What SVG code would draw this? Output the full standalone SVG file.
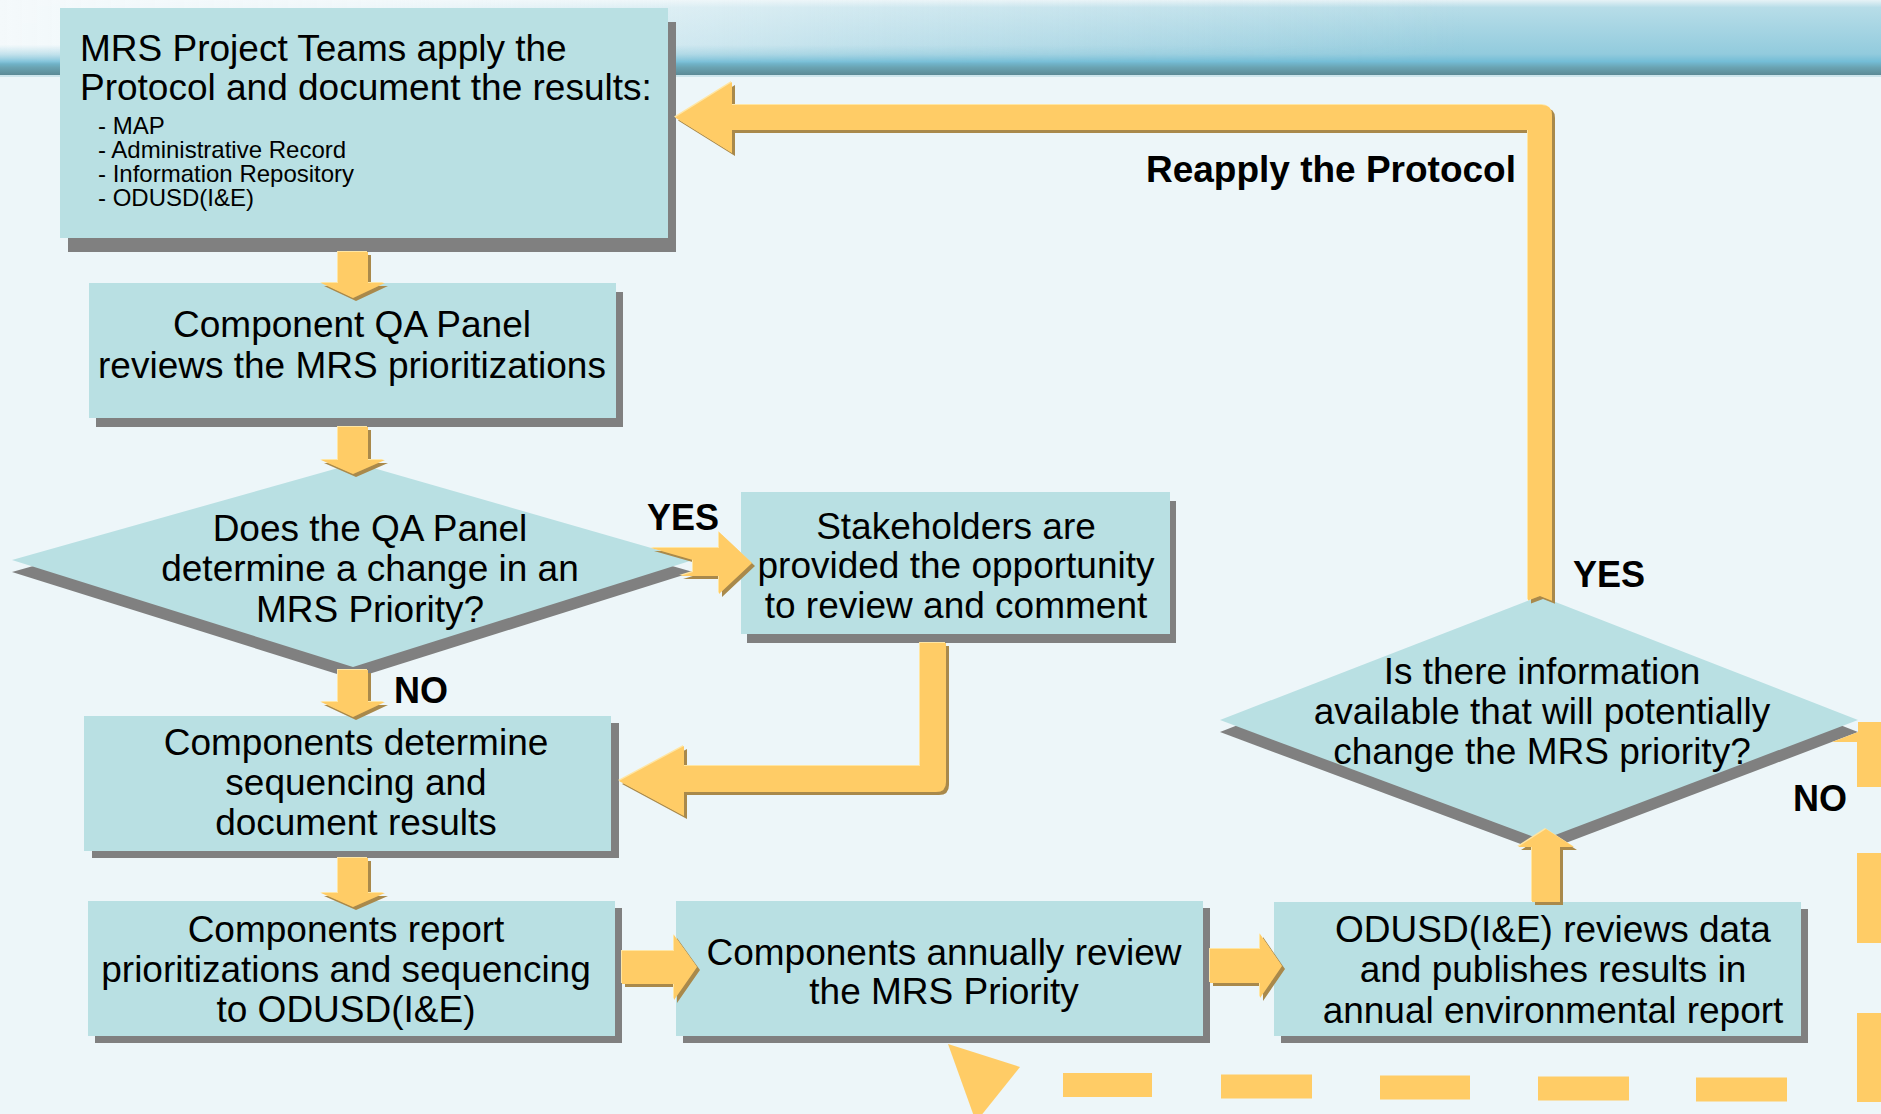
<svg xmlns="http://www.w3.org/2000/svg" width="1881" height="1114" viewBox="0 0 1881 1114">
<style>
.box{fill:#B9E0E3}
.sh{fill:#808080}
.t{font-family:"Liberation Sans",Arial,sans-serif;font-size:37px;fill:#000}
.c{text-anchor:middle}
.s{font-size:24px}
.b{font-family:"Liberation Sans",Arial,sans-serif;font-weight:bold;font-size:36px;fill:#000}
.arr{fill:#FFCC66;filter:url(#bevel)}
.dash{fill:none;stroke:#FFCC66;stroke-width:24;stroke-linecap:butt;stroke-linejoin:miter}
</style>
<defs>
<linearGradient id="bandV" x1="0" y1="0" x2="0" y2="1">
<stop offset="0" stop-color="#E6F2F6"/>
<stop offset="0.1" stop-color="#B7DDE8"/>
<stop offset="0.72" stop-color="#92CBDD"/>
<stop offset="0.82" stop-color="#74BDD6"/>
<stop offset="0.9" stop-color="#6AA3B2"/>
<stop offset="1" stop-color="#5C8A96"/>
</linearGradient>
<linearGradient id="fadeH" x1="0" y1="0" x2="1" y2="0">
<stop offset="0" stop-color="#F4F9FB" stop-opacity="1"/>
<stop offset="0.2" stop-color="#F4F9FB" stop-opacity="0.9"/>
<stop offset="0.45" stop-color="#F4F9FB" stop-opacity="0.45"/>
<stop offset="0.78" stop-color="#F4F9FB" stop-opacity="0"/>
</linearGradient>
<linearGradient id="maskV" x1="0" y1="0" x2="0" y2="1">
<stop offset="0" stop-color="#fff"/>
<stop offset="0.7" stop-color="#fff"/>
<stop offset="1" stop-color="#000"/>
</linearGradient>
<mask id="bandMask"><rect x="0" y="0" width="1881" height="64" fill="url(#maskV)"/></mask>
<filter id="bevel" x="-5%" y="-5%" width="110%" height="110%">
<feOffset in="SourceAlpha" dx="2.5" dy="2.5" result="o1"/>
<feFlood flood-color="#A9894B"/>
<feComposite in2="o1" operator="in" result="dark"/>
<feOffset in="SourceAlpha" dx="-1.5" dy="-1.5" result="o2"/>
<feFlood flood-color="#FFE6A3"/>
<feComposite in2="o2" operator="in" result="light"/>
<feMerge><feMergeNode in="dark"/><feMergeNode in="light"/><feMergeNode in="SourceGraphic"/></feMerge>
</filter>
</defs>

<rect x="0" y="0" width="1881" height="1114" fill="#EDF6F9"/>
<g id="header-band">
<rect x="0" y="0" width="1881" height="75" fill="url(#bandV)"/>
<rect x="0" y="0" width="1881" height="64" fill="url(#fadeH)" mask="url(#bandMask)"/>
<rect x="0" y="75" width="1881" height="2" fill="#CDE5EC"/>
</g>

<g id="node-apply">
<rect class="sh" x="68" y="22" width="608" height="230"/>
<rect class="box" x="60" y="8" width="608" height="230"/>
<text class="t"><tspan x="80" y="61">MRS Project Teams apply the</tspan><tspan x="80" y="100">Protocol and document the results:</tspan></text>
<text class="t s"><tspan x="98" y="134">- MAP</tspan><tspan x="98" y="158">- Administrative Record</tspan><tspan x="98" y="182">- Information Repository</tspan><tspan x="98" y="206">- ODUSD(I&amp;E)</tspan></text>
</g>

<g id="node-qa-review">
<rect class="sh" x="96" y="292" width="527" height="135"/>
<rect class="box" x="89" y="283" width="527" height="135"/>
<text class="t c"><tspan x="352" y="337">Component QA Panel</tspan><tspan x="352" y="378">reviews the MRS prioritizations</tspan></text>
</g>

<g id="node-qa-decision">
<polygon class="sh" points="356,475 693,572 353,679 12,572"/>
<polygon class="box" points="356,463 693,560 353,667 12,560"/>
<text class="t c"><tspan x="370" y="541">Does the QA Panel</tspan><tspan x="370" y="581">determine a change in an</tspan><tspan x="370" y="622">MRS Priority?</tspan></text>
</g>

<g id="node-stakeholders">
<rect class="sh" x="747" y="501" width="429" height="142"/>
<rect class="box" x="741" y="492" width="429" height="142"/>
<text class="t c"><tspan x="956" y="539">Stakeholders are</tspan><tspan x="956" y="578">provided the opportunity</tspan><tspan x="956" y="618">to review and comment</tspan></text>
</g>

<g id="node-sequencing">
<rect class="sh" x="92" y="723" width="527" height="135"/>
<rect class="box" x="84" y="716" width="527" height="135"/>
<text class="t c"><tspan x="356" y="755">Components determine</tspan><tspan x="356" y="795">sequencing and</tspan><tspan x="356" y="835">document results</tspan></text>
</g>

<g id="node-report">
<rect class="sh" x="95" y="908" width="527" height="135"/>
<rect class="box" x="88" y="901" width="527" height="135"/>
<text class="t c"><tspan x="346" y="942">Components report</tspan><tspan x="346" y="982">prioritizations and sequencing</tspan><tspan x="346" y="1022">to ODUSD(I&amp;E)</tspan></text>
</g>

<g id="node-annual-review">
<rect class="sh" x="683" y="908" width="527" height="135"/>
<rect class="box" x="676" y="901" width="527" height="135"/>
<text class="t c"><tspan x="944" y="965">Components annually review</tspan><tspan x="944" y="1004">the MRS Priority</tspan></text>
</g>

<g id="node-odusd">
<rect class="sh" x="1281" y="909" width="527" height="134"/>
<rect class="box" x="1274" y="902" width="527" height="134"/>
<text class="t c"><tspan x="1553" y="942">ODUSD(I&amp;E) reviews data</tspan><tspan x="1553" y="982">and publishes results in</tspan><tspan x="1553" y="1023">annual environmental report</tspan></text>
</g>

<g id="node-info-decision">
<polygon class="sh" points="1540,608 1858,732 1542,852 1220,732"/>
<polygon class="box" points="1540,596 1858,720 1542,840 1220,720"/>
<text class="t c"><tspan x="1542" y="684">Is there information</tspan><tspan x="1542" y="724">available that will potentially</tspan><tspan x="1542" y="764">change the MRS priority?</tspan></text>
</g>

<g id="connectors">
<polygon class="arr" points="338,252 368,252 368,283 385,283 353,298 321,283 338,283"/>
<polygon class="arr" points="338,427 368,427 368,460 385,460 353,474 321,460 338,460"/>
<polygon class="arr" points="338,670 368,670 368,702 385,702 353,717 321,702 338,702"/>
<polygon class="arr" points="338,858 368,858 368,893 385,893 353,907 321,893 338,893"/>
<polygon class="arr" points="651,548 719,548 719,532 752,563 719,594 719,576 680,576 693,572 693,560"/>
<path class="arr" d="M1528,600.6 L1528,130 L732,130 L732,153 L675,117.5 L732,82 L732,105 L1542,105 Q1552,105 1552,115 L1552,600.7 L1540,596 Z"/>
<path class="arr" d="M920,643 L946,643 L946,782 Q946,792 936,792 L684,792 L684,816 L619,781 L684,746 L684,766 L920,766 Z"/>
<polygon class="arr" points="622,951 674,951 674,935 697,967 674,1000 674,984 622,984"/>
<polygon class="arr" points="1210,949 1260,949 1260,934 1282,966 1260,998 1260,983 1210,983"/>
<polygon class="arr" points="1532,902 1532,847 1518,847 1546,829 1574,847 1560,847 1560,902"/>
<polygon fill="#FFCC66" points="1858,722 1883,722 1883,787 1857,787 1857,742 1832,742 1858,732"/>
<path class="dash" d="M1869,853 V943 M1869,1013 V1102 M1787,1089.5 H1696 M1629,1088.5 H1538 M1470,1087.5 H1380 M1312,1086.5 H1221 M1152,1085 H1063"/>
<polygon fill="#FFCC66" points="948,1044 1020,1067 976,1122"/>
<text class="b" x="647" y="530">YES</text>
<text class="b" x="394" y="703">NO</text>
<text class="b" x="1516" y="182" text-anchor="end" style="font-size:37px">Reapply the Protocol</text>
<text class="b" x="1573" y="587">YES</text>
<text class="b" x="1793" y="811">NO</text>
</g>
</svg>
